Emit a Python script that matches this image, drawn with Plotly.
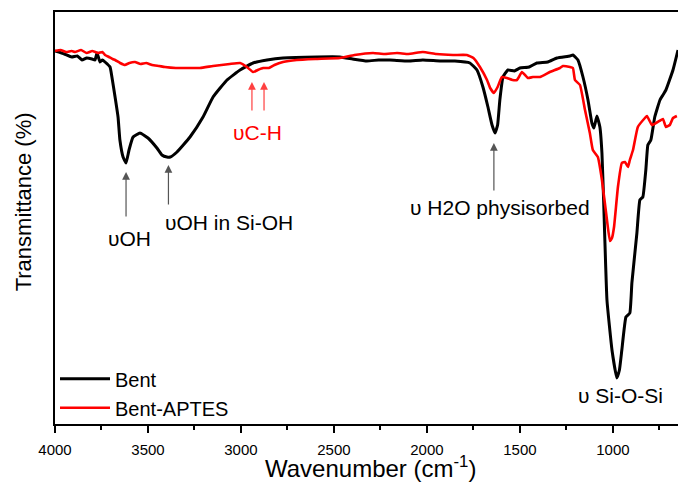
import plotly.graph_objects as go

# ---- data (wavenumber cm-1, transmittance a.u.) ----
bent_wn = [4000, 3950, 3910, 3880, 3855, 3830, 3801, 3785, 3774, 3758, 3745, 3731, 3704, 3694,
           3677, 3661, 3651, 3634, 3618, 3602, 3580, 3543, 3500, 3452, 3425, 3398, 3380,
           3344, 3274, 3204, 3150, 3075, 3005, 2935, 2860, 2774, 2590, 2468, 2400, 2323,
           2260, 2199, 2100, 2022, 1930, 1850, 1769, 1731, 1699, 1672, 1650, 1634, 1620,
           1608, 1591, 1565, 1530, 1500, 1450, 1409, 1350, 1301, 1231, 1215, 1188, 1161,
           1134, 1113, 1102, 1086, 1070, 1059, 1050, 1032, 1005, 979, 965, 952, 930, 909,
           898, 871, 855, 839, 823, 812, 796, 775, 747, 731, 715, 677, 650]
bent_t = [93.25, 92.5, 91.75, 92.0, 91.0, 91.5, 91.25, 91.0, 92.75, 90.5, 91.0, 90.5, 89.25, 86.75,
          81.75, 76.75, 71.0, 66.75, 65.25, 68.5, 71.75, 72.75, 71.5, 69.0, 67.25, 66.75, 66.75,
          68.0, 71.75, 76.75, 81.75, 86.0, 88.5, 90.25, 91.0, 91.5, 91.75, 91.75, 91.25, 90.75,
          91.0, 91.0, 90.75, 91.0, 90.75, 90.75, 90.25, 88.5, 84.25, 79.25, 74.75, 72.75, 74.75,
          81.0, 86.75, 88.5, 88.25, 89.0, 89.25, 90.25, 90.5, 91.5, 92.0, 92.25, 91.0, 86.75,
          81.0, 75.25, 74.0, 77.0, 74.25, 67.75, 56.0, 31.0, 18.5, 11.5, 13.5, 18.5, 26.75, 27.75,
          35.25, 47.75, 56.0, 56.75, 63.5, 69.75, 71.0, 76.75, 81.0, 82.25, 83.5, 88.5, 93.5]

aptes_wn = [4000, 3970, 3940, 3910, 3892, 3860, 3830, 3800, 3769, 3745, 3731, 3710, 3690, 3677,
            3650, 3624, 3600, 3570, 3540, 3510, 3478, 3440, 3409, 3350, 3300, 3220, 3150, 3060,
            3005, 2968, 2935, 2910, 2881, 2850, 2820, 2774, 2700, 2600, 2468, 2390, 2290, 2230,
            2161, 2100, 2022, 1950, 1860, 1785, 1750, 1715, 1677, 1660, 1640, 1620, 1597, 1570,
            1540, 1516, 1489, 1457, 1430, 1392, 1339, 1285, 1269, 1231, 1215, 1204, 1177, 1150,
            1124, 1108, 1081, 1059, 1032, 1016, 1005, 994, 973, 952, 935, 919, 909, 892, 866,
            828, 817, 790, 760, 731, 715, 694, 677, 656]
aptes_t = [93.25, 93.5, 93.0, 93.25, 93.0, 93.5, 92.75, 93.25, 92.75, 93.0, 92.25, 91.75, 91.25, 91.0,
           90.25, 89.75, 90.25, 90.5, 90.0, 90.25, 89.75, 89.5, 89.25, 89.0, 89.0, 89.0, 89.5, 90.0,
           90.25, 89.25, 88.0, 88.5, 89.0, 89.0, 89.75, 90.5, 91.0, 91.25, 91.5, 92.25, 92.75, 92.5,
           92.75, 92.5, 93.0, 92.5, 92.25, 92.25, 91.5, 89.25, 86.0, 84.0, 82.75, 84.25, 86.75, 86.5,
           86.0, 86.0, 88.0, 86.5, 86.75, 86.75, 88.0, 89.0, 89.5, 89.25, 89.0, 86.0, 84.75, 78.5,
           72.75, 68.5, 66.75, 61.0, 51.0, 45.75, 46.5, 49.25, 59.25, 65.25, 65.5, 64.25, 66.0, 68.5, 74.25,
           76.5, 77.0, 74.75, 75.5, 76.25, 74.25, 74.75, 76.5, 77.0]

x_ticks = [4000, 3500, 3000, 2500, 2000, 1500, 1000]
x_minor = [3750, 3250, 2750, 2250, 1750, 1250, 750]
x_range = [4000, 650]
y_range = [0, 103]

# band labels: (text, wavenumber, transmittance, colour)
band_labels = [("υOH", 3597, 46.5, "black"),
               ("υOH in Si-OH", 3065, 50.5, "black"),
               ("υC-H", 2909, 73.0, "red"),
               ("υ H2O physisorbed", 1608, 54.25, "black"),
               ("υ Si-O-Si", 957, 7.25, "black")]
# arrows: (wavenumber of tip, transmittance of tip, tail offset px, colour)
band_arrows = [(3618, 63.0, 46, "black"),
               (3390, 64.75, 41, "black"),
               (2941, 85.5, 30, "red"),
               (2876, 85.5, 30, "red"),
               (1640, 70.25, 49, "black")]

FONT = "Liberation Sans, Arial, sans-serif"

fig = go.Figure()
fig.add_trace(go.Scatter(x=bent_wn, y=bent_t, mode="lines", name="Bent",
                         line=dict(color="black", width=3, shape="spline", smoothing=0.35)))
fig.add_trace(go.Scatter(x=aptes_wn, y=aptes_t, mode="lines", name="Bent-APTES",
                         line=dict(color="#ff0000", width=2.6, shape="spline", smoothing=0.35)))

annotations = []
for txt, x, y, c in band_labels:
    annotations.append(dict(x=x, y=y, xref="x", yref="y", text=txt, showarrow=False,
                            font=dict(family=FONT, size=21, color=c),
                            xanchor="center", yanchor="middle"))
for x, y, off, c in band_arrows:
    annotations.append(dict(x=x, y=y, xref="x", yref="y", text="", showarrow=True,
                            ax=0, ay=off, axref="pixel", ayref="pixel",
                            arrowhead=2, arrowsize=1.3, arrowwidth=1.2,
                            arrowcolor=("#555555" if c == "black" else "#ff4040"),
                            standoff=0))
annotations.append(dict(x=0.506, y=-0.143, xref="paper", yref="paper",
                        text="Wavenumber (cm<sup>-1</sup>)", showarrow=False,
                        font=dict(family=FONT, size=24, color="black"),
                        xanchor="center", yanchor="bottom", borderpad=0))
annotations.append(dict(x=-0.05, y=0.54, xref="paper", yref="paper",
                        text="Transmittance (%)", showarrow=False, textangle=-90,
                        font=dict(family=FONT, size=22, color="black"),
                        xanchor="center", yanchor="middle"))

fig.update_layout(
    width=678, height=482,
    margin=dict(l=55, r=0, t=12, b=58),
    paper_bgcolor="white", plot_bgcolor="white",
    showlegend=True,
    legend=dict(x=0.0, y=-0.008, xanchor="left", yanchor="bottom",
                font=dict(family=FONT, size=20, color="black"),
                bgcolor="rgba(0,0,0,0)", tracegroupgap=0, itemwidth=50),
    annotations=annotations,
    xaxis=dict(range=x_range, tickvals=x_ticks, ticktext=[str(v) for v in x_ticks],
               showgrid=False, zeroline=False, showline=True, linecolor="black",
               linewidth=2, mirror=True, ticks="outside", ticklen=7, tickwidth=2,
               tickcolor="black", ticklabelstandoff=4,
               minor=dict(tickvals=x_minor, ticks="outside", ticklen=4, tickwidth=2,
                          tickcolor="black"),
               tickfont=dict(family=FONT, size=15, color="black")),
    yaxis=dict(range=y_range, showgrid=False, zeroline=False, showline=True,
               linecolor="black", linewidth=2, mirror=False, ticks="",
               showticklabels=False),
)

fig.write_html("out.html")
